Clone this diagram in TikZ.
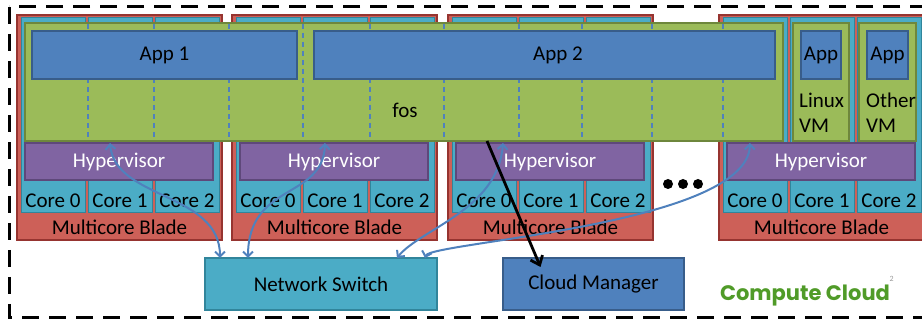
\documentclass[tikz,border=0pt]{standalone}
\usepackage{fontspec}
\setmainfont{Carlito}
\newfontfamily\cloudfont{Poppins}
\usetikzlibrary{arrows.meta,positioning}
\definecolor{bladered}{RGB}{205,96,88}
\definecolor{bladeedge}{RGB}{150,52,48}
\definecolor{corecyan}{RGB}{75,172,198}
\definecolor{coreedge}{RGB}{49,133,155}
\definecolor{hvpurple}{RGB}{128,100,162}
\definecolor{hvedge}{RGB}{94,72,122}
\definecolor{fosgreen}{RGB}{155,187,89}
\definecolor{fosedge}{RGB}{110,135,60}
\definecolor{appblue}{RGB}{79,129,189}
\definecolor{appedge}{RGB}{56,93,138}
\definecolor{cloudgreen}{RGB}{80,155,40}
\tikzset{
  box/.style={draw,line width=1.5pt,inner sep=0pt,outer sep=0pt,anchor=north west,
    font=\fontsize{21}{25}\selectfont},
  blade/.style={box,fill=bladered,draw=bladeedge,minimum width=205pt,minimum height=225pt},
  core/.style={box,fill=corecyan,draw=coreedge,line width=1pt,minimum width=64pt,minimum height=195pt},
  hyper/.style={box,fill=hvpurple,draw=hvedge,text=white,minimum width=188pt,minimum height=37pt},
  fos/.style={box,fill=fosgreen,draw=fosedge,minimum height=118pt},
  app/.style={box,fill=appblue,draw=appedge,minimum height=48pt},
  label text/.style={inner sep=0pt,anchor=south,font=\fontsize{21}{25}\selectfont},
  link/.style={draw=appblue,line width=2pt,{Straight Barb[length=5pt,width=10pt]}-{Straight Barb[length=5pt,width=10pt]}}
}
\begin{document}
\begin{tikzpicture}[x=1pt,y=-1pt]
\useasboundingbox (0,0) rectangle (922,320);
% the blades
\foreach \b/\l in {1/17,2/232,3/448,4/719} {
  \node[blade] (blade\b) at (\l,15) {};
  \node[label text,above=5pt of blade\b.south] {Multicore Blade};
  \foreach \c in {0,1,2} {
    \node[core] (core\b\c) at ({\l+4+67*\c},18) {};
    \node[label text,above=5pt of core\b\c.south] {Core \c};
  }
  \node[hyper] (hv\b) at (\l+8,143) {Hypervisor};
}
% fos and the VMs
\node[fos,minimum width=758pt] (fos) at (25,23) {};
\foreach \x in {88,154,229,303,370,444,519,582,652,723}
  \draw[appblue,line width=1.1pt,dash pattern=on 5pt off 4pt] (\x,24) -- (\x,140);
\node[app,minimum width=265pt] (app1) at (32,31) {App 1};
\node[app,minimum width=461pt] (app2) at (314,31) {};
\node[label text,anchor=center] at (558,55) {App 2};
\node[label text,anchor=center] at (405,110) {fos};
\node[fos,minimum width=56pt] (linux) at (793,23) {};
\node[app,minimum width=40pt] (app3) at (801,31) {App};
\node[label text,anchor=north west,align=left] at (799,93) {Linux\\VM};
\node[fos,minimum width=57pt] (other) at (859,23) {};
\node[app,minimum width=41pt] (app4) at (867,31) {App};
\node[label text,anchor=north west,align=left] at (866,93) {Other\\VM};
\foreach \x in {668,683,698}
  \fill (\x,184) circle (5pt);
% switch and manager
\node[box,fill=corecyan,draw=coreedge,minimum width=232pt,minimum height=52pt] (ns) at (205,258) {Network Switch};
\node[box,fill=appblue,draw=appedge,minimum width=181pt,minimum height=52pt] (cm) at (503,258) {Cloud Manager};
\node[font=\cloudfont\bfseries\fontsize{21}{24}\selectfont,text=cloudgreen] (cc) at (805,296) {Compute Cloud};
\node[inner sep=0pt,font=\fontsize{8}{9}\selectfont,text=black!40,above right=0pt and -4pt of cc.north east] {2};
% links
\draw[link] ([xshift=-9pt]hv1.north) .. controls +(5,57) and +(0,-66) .. ([xshift=-101pt]ns.north);
\draw[link] ([xshift=-9pt]hv2.north) .. controls +(-2,57) and +(0,-76) .. ([xshift=-73pt]ns.north);
\draw[link] ([xshift=-47pt]hv3.north) .. controls +(-5,67) and +(23,-29) .. ([xshift=76pt]ns.north);
\draw[link] ([xshift=-71pt]hv4.north) .. controls +(-2,82) and +(5,-16) .. ([xshift=104pt]ns.north);
\draw[line width=2.8pt,-{Straight Barb[length=8pt,width=13pt]}] ([xshift=83pt]fos.south) -- ([xshift=-53pt,yshift=-9pt]cm.north);
% outer frame
\draw[line width=3pt,dash pattern=on 17pt off 10pt] (9,7) rectangle (940,318);
\end{tikzpicture}
\end{document}
